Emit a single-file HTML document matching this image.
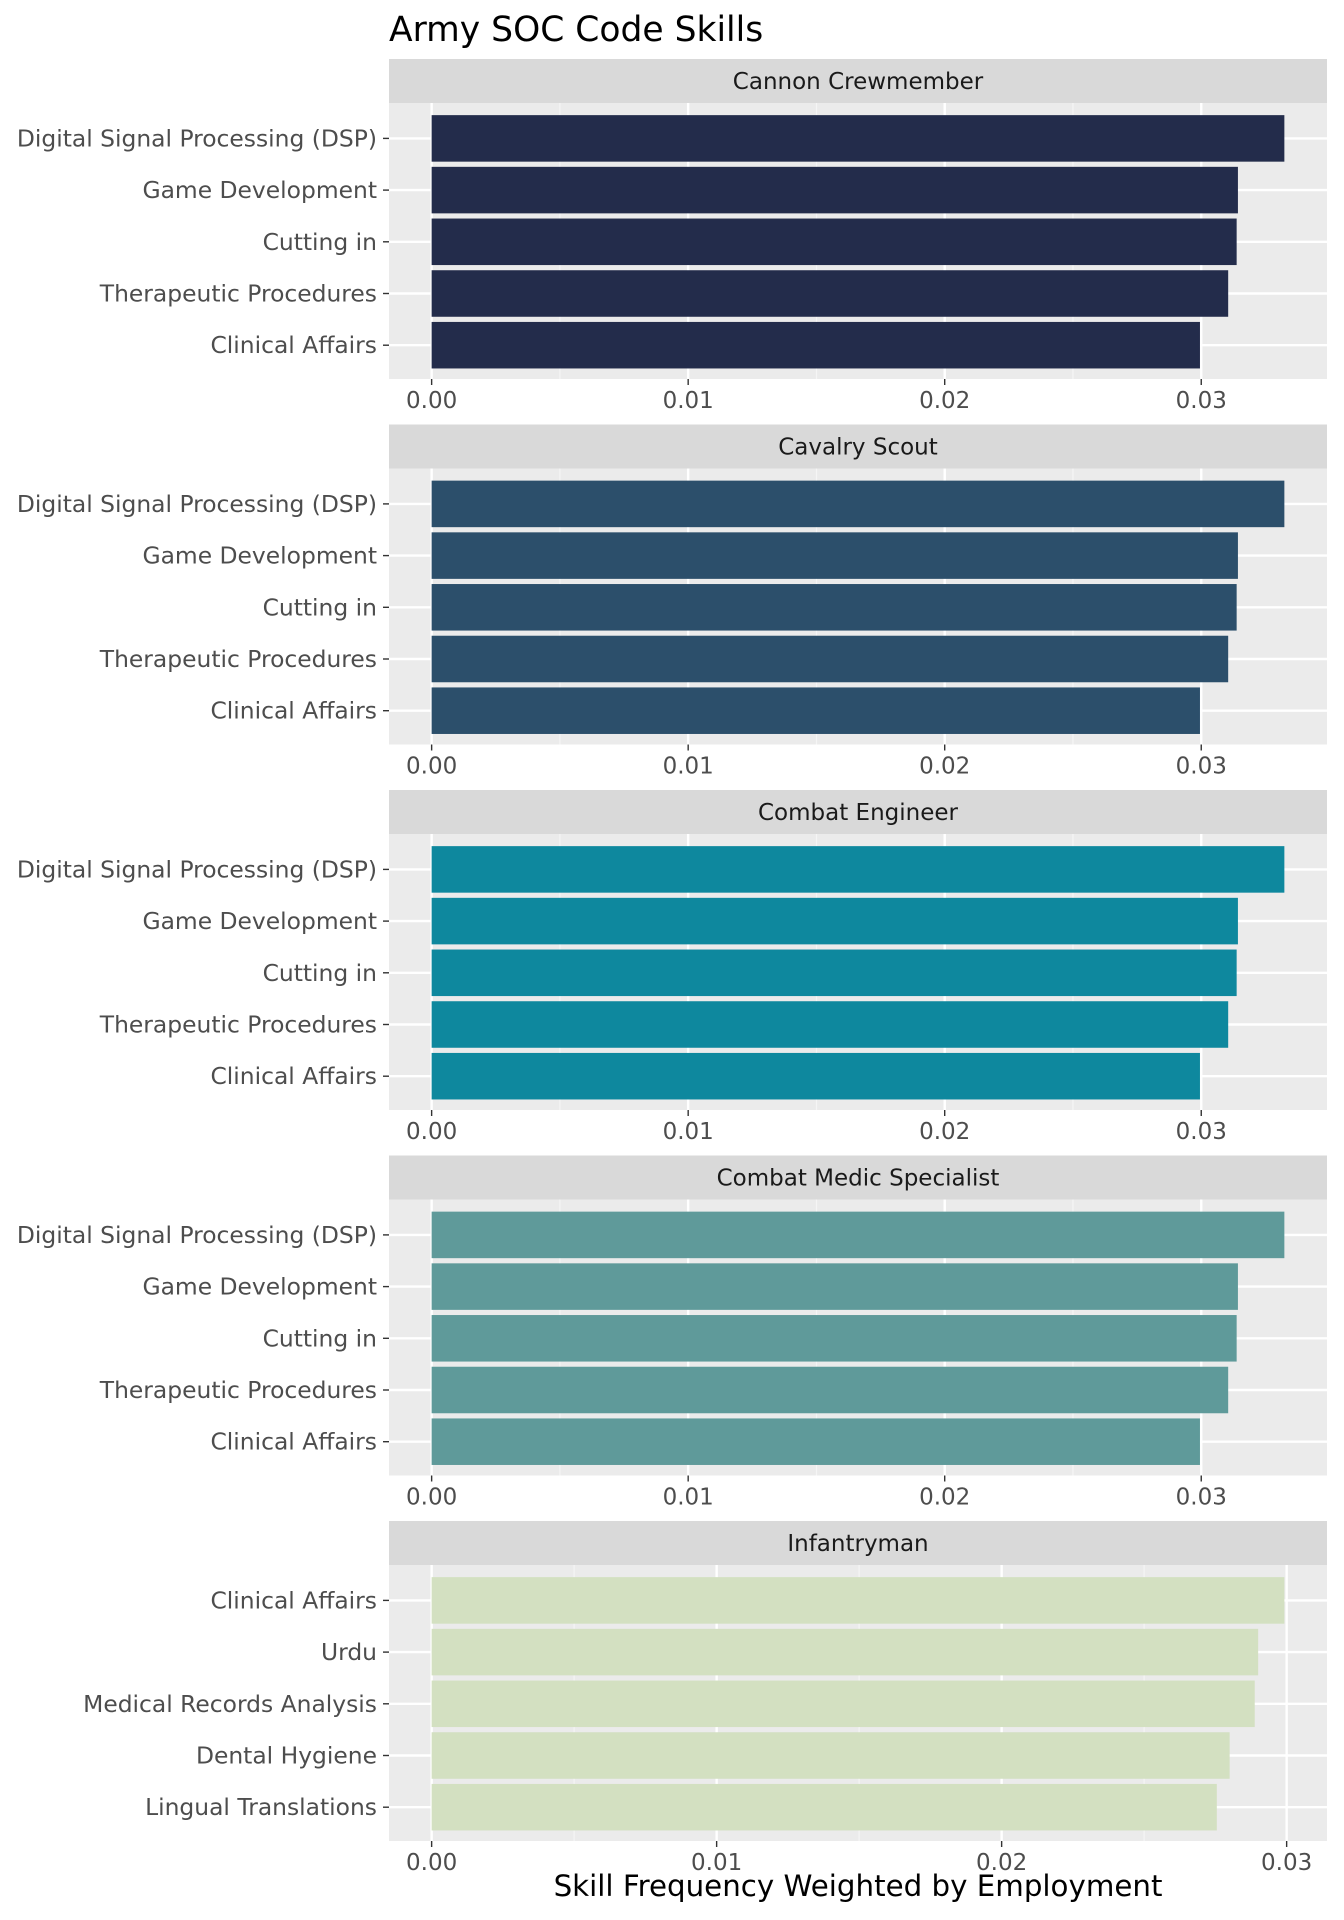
<!DOCTYPE html>
<html><head><meta charset="utf-8"><style>body{margin:0;background:#fff}svg{display:block;font-family:"DejaVu Sans","Liberation Sans",sans-serif}</style></head>
<body>
<svg id="chart" width="1344" height="1920" viewBox="0 0 1344 1920" xmlns="http://www.w3.org/2000/svg">
<text x="389" y="41" font-size="34.5" fill="#000">Army SOC Code Skills</text>
<text x="858" y="1896" font-size="29.3" fill="#000" text-anchor="middle">Skill Frequency Weighted by Employment</text>
</svg>
<script>
const panelTitles = ["Cannon Crewmember","Cavalry Scout","Combat Engineer","Combat Medic Specialist","Infantryman"];
const categoriesTop = ["Digital Signal Processing (DSP)","Game Development","Cutting in","Therapeutic Procedures","Clinical Affairs"];
const categoriesInf = ["Clinical Affairs","Urdu","Medical Records Analysis","Dental Hygiene","Lingual Translations"];
const valuesTop = [0.03324,0.03143,0.03138,0.03105,0.02995];
const valuesInf = [0.02992,0.0290,0.02888,0.0280,0.02755];
const panelColors = ["#232c4b","#2c4f6b","#0e889e","#5f9a9a","#d3e0c1"];
const xTicks = [0,0.01,0.02,0.03];
const xTickLabels = ["0.00","0.01","0.02","0.03"];

const NS="http://www.w3.org/2000/svg";
const svg=document.getElementById('chart');
function mk(tag,attrs,parent){const e=document.createElementNS(NS,tag);for(const k in attrs)e.setAttribute(k,attrs[k]);(parent||svg).appendChild(e);return e;}
const PL=389,PR=1327,PW=PR-PL;
panelTitles.forEach((title,p)=>{
  const cats = p<4?categoriesTop:categoriesInf;
  const vals = p<4?valuesTop:valuesInf;
  const g=mk('g',{});
  
  
  const sTop=59+p*365.5, pTop=sTop+44, pH=276, pBot=pTop+pH;
  const strip=mk('rect',{x:PL,y:sTop,width:PW,height:44,fill:'#d9d9d9'},g);
  
  
  const st=mk('text',{x:PL+PW/2,y:sTop+30,'font-size':23,fill:'#1a1a1a','text-anchor':'middle'},g);
  st.textContent=title;
  
  
  const bg=mk('rect',{x:PL,y:pTop,width:PW,height:pH,fill:'#ebebeb'},g);
  
  
  const maxV=Math.max(...vals), pad=maxV*0.05;
  const xmin=-pad, xmax=maxV+pad;
  const xs=v=>PL+(v-xmin)/(xmax-xmin)*PW;
  for(let i=0;i<xTicks.length;i++){const m=xTicks[i]+0.005; if(m<xmax){const l=mk('line',{x1:xs(m),x2:xs(m),y1:pTop,y2:pBot,stroke:'#f5f5f5','stroke-width':1.2},g);}}
  xTicks.forEach((t,i)=>{
    const x=xs(t);
    const l=mk('line',{x1:x,x2:x,y1:pTop,y2:pBot,stroke:'#fff','stroke-width':2.4},g);
    
    
    const tk=mk('line',{x1:x,x2:x,y1:pBot,y2:pBot+6,stroke:'#333','stroke-width':1.4},g);
    
    
    const tl=mk('text',{x:x,y:pBot+29,'font-size':23,fill:'#4d4d4d','text-anchor':'middle'},g);
    tl.textContent=xTickLabels[i];
    
    
  });
  const step=51.7, first=35.4, bh=step*0.9;
  cats.forEach((c,i)=>{
    const cy=pTop+first+i*step;
    const gl=mk('line',{x1:PL,x2:PR,y1:cy,y2:cy,stroke:'#fff','stroke-width':2.4},g);
    
    
    const b=mk('rect',{x:xs(0),y:cy-bh/2,width:xs(vals[i])-xs(0),height:bh,fill:panelColors[p]},g);
    
    
    const tk=mk('line',{x1:PL-6,x2:PL,y1:cy,y2:cy,stroke:'#333','stroke-width':1.4},g);
    
    
    const tl=mk('text',{x:PL-12,y:cy+8,'font-size':23.4,fill:'#4d4d4d','text-anchor':'end'},g);
    tl.textContent=c;
    
    
  });
});
</script>
</body></html>
